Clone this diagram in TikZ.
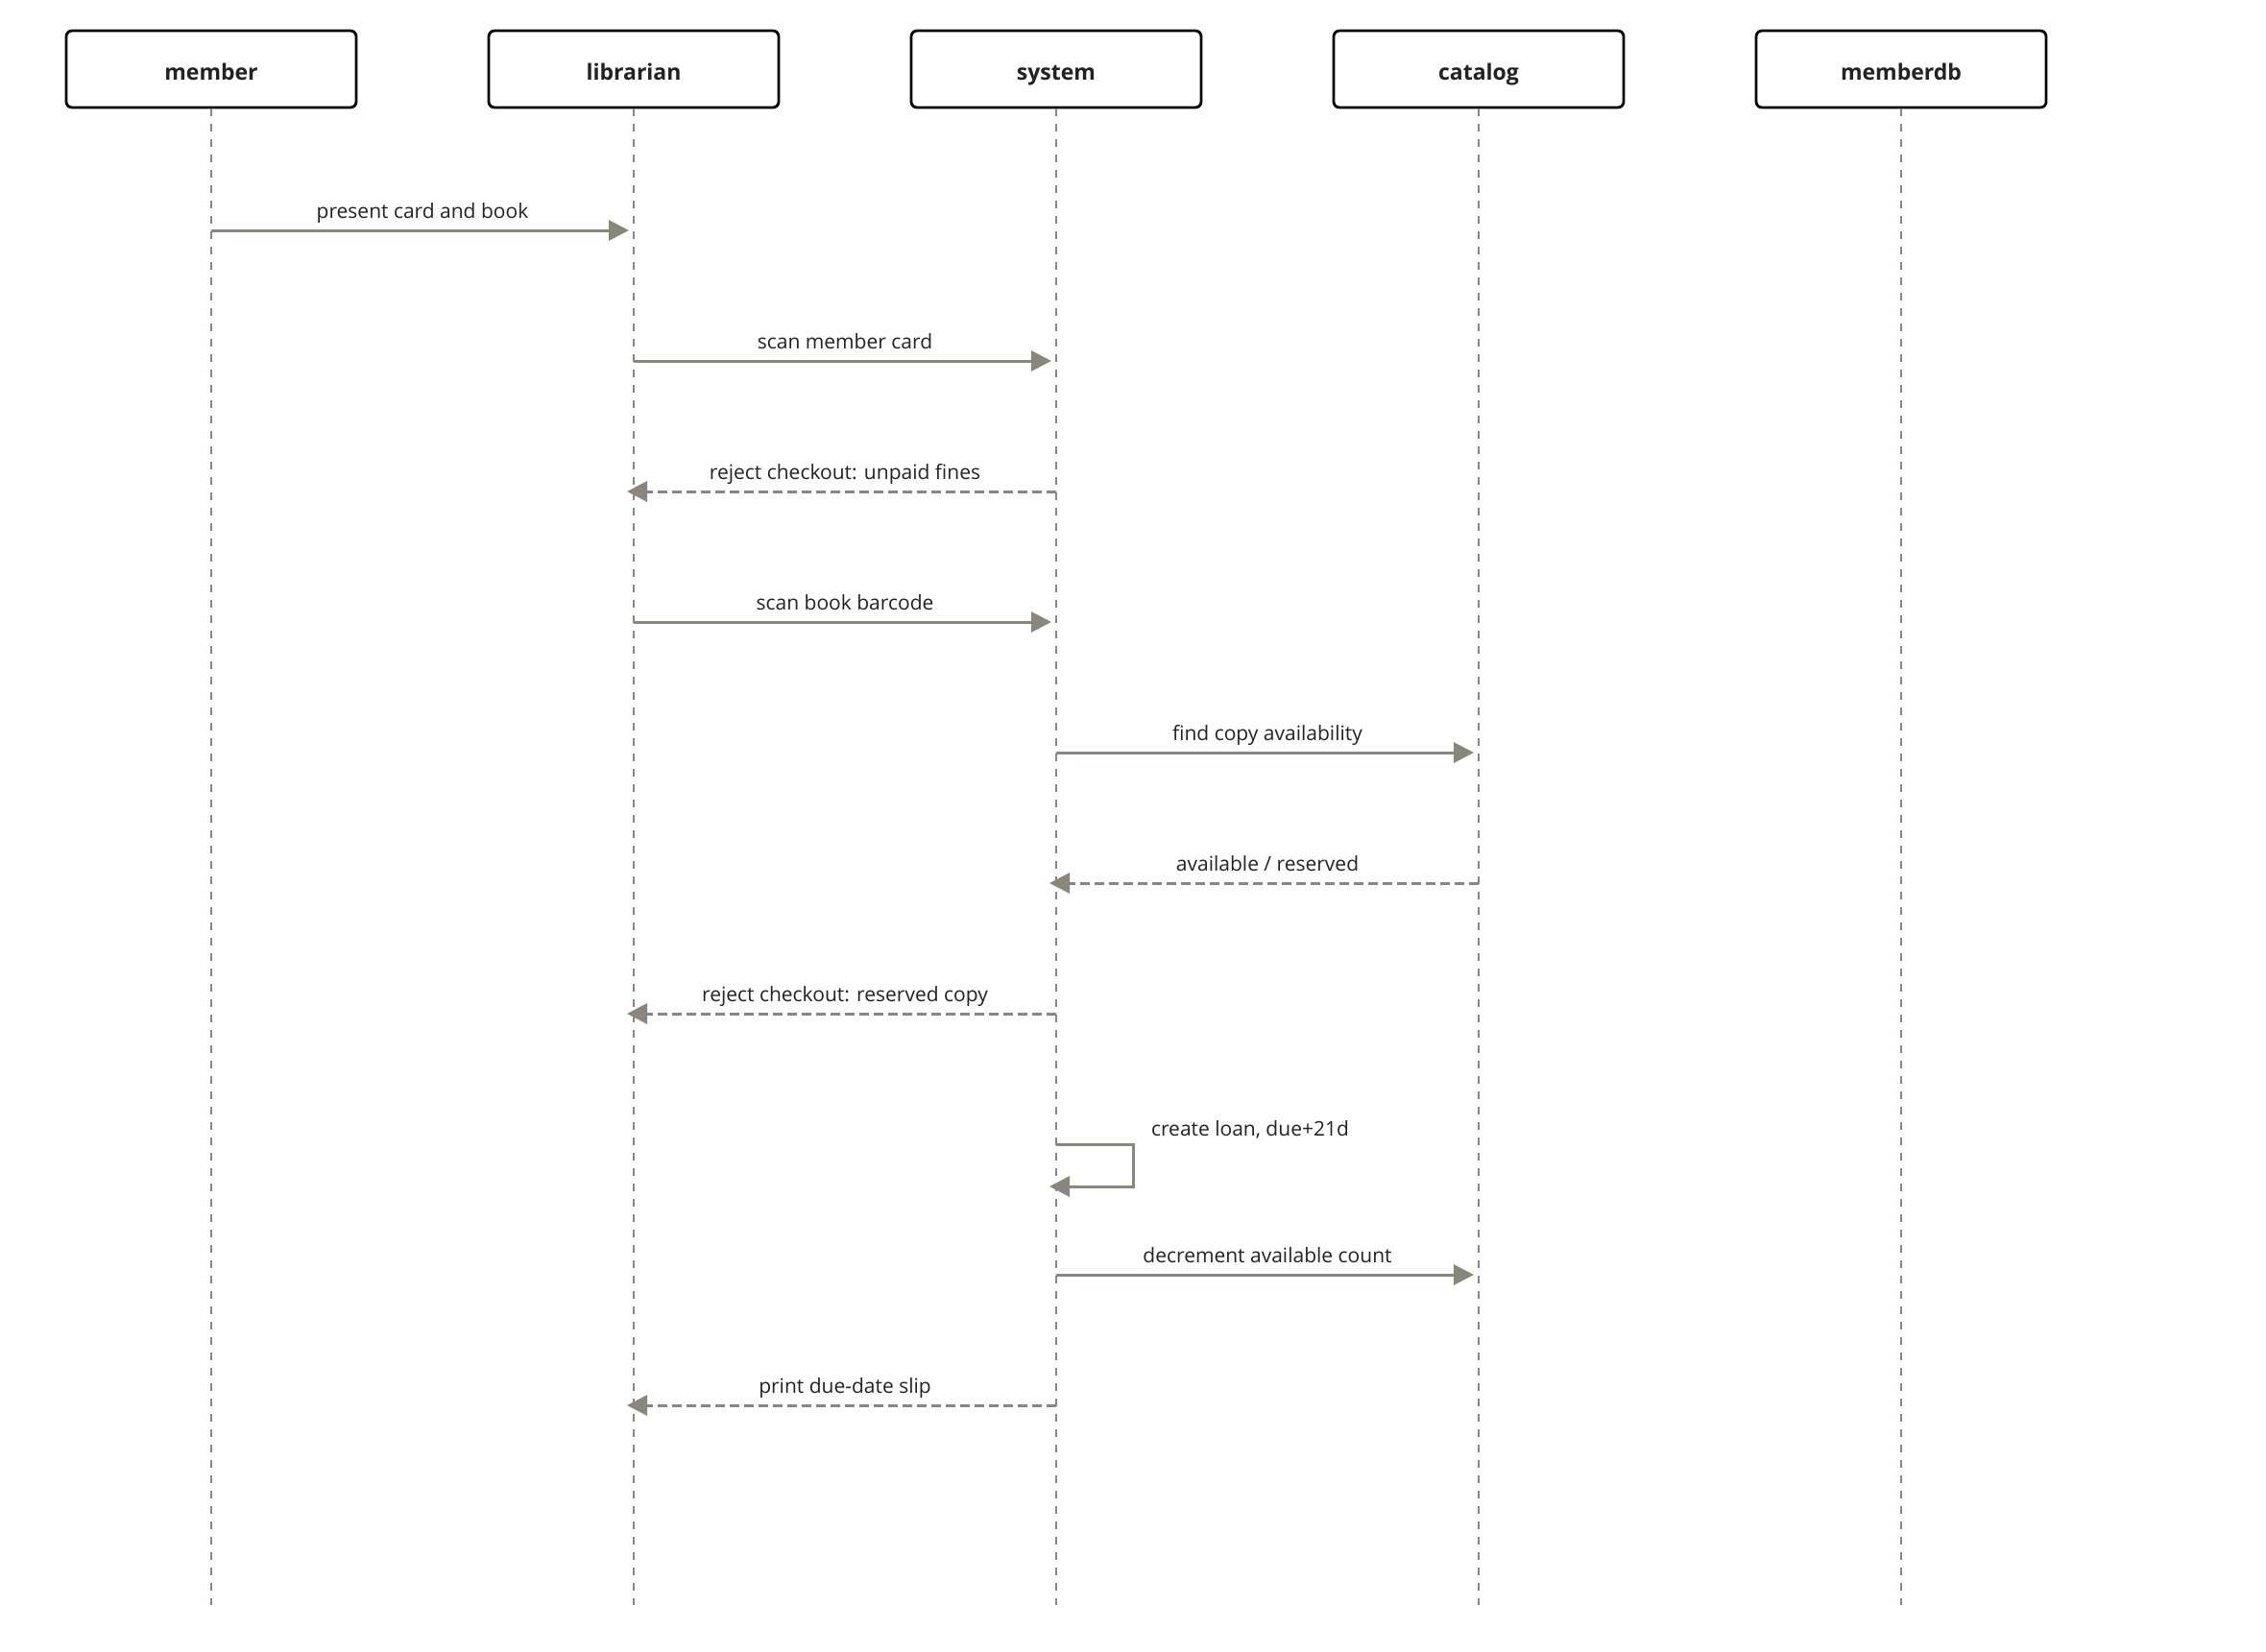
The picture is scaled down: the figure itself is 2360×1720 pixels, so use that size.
\documentclass[tikz,border=0pt]{standalone}
\usepackage{fontspec}
\setmainfont{Open Sans}
\usetikzlibrary{arrows.meta}
\definecolor{linegray}{HTML}{8A857D}
\definecolor{inkdark}{HTML}{222222}
\begin{document}
\begin{tikzpicture}[x=0.5pt,y=-0.5pt,
  actor/.style={draw=black,line width=1.4pt,rounded corners=3pt,fill=white,
    minimum width=151pt,minimum height=40pt,text=inkdark,
    text height=11pt,text depth=0pt,
    font=\fontsize{11.5}{14}\selectfont\bfseries},
  life/.style={draw=linegray,line width=1pt,dash pattern=on 4pt off 4pt},
  call/.style={draw=linegray,line width=1.5pt,
    -{Triangle[length=10.5pt,width=10.5pt]},shorten >=2.5pt},
  back/.style={call,dash pattern=on 5pt off 2.5pt,shorten >=-3.5pt},
  self/.style={call,shorten >=-3.5pt},
  txt/.style={text=inkdark,font=\fontsize{10.5}{12}\selectfont},
  lbl/.style={txt,anchor=base,yshift=6.5pt}]
\useasboundingbox (0,0) rectangle (2360,1720);
\node[actor] (mem) at (220,72) {member};
\node[actor] (lib) at (660,72) {librarian};
\node[actor] (sys) at (1100,72) {system};
\node[actor] (cat) at (1540,72) {catalog};
\node[actor] (mdb) at (1980,72) {memberdb};
\foreach \n in {mem,lib,sys,cat,mdb}
  \draw[life] (\n.south) -- (\n.south |- 0,1672);
\draw[call] (mem |- 0,240) -- (lib |- 0,240) node[lbl,midway] {present card and book};
\draw[call] (lib |- 0,376) -- (sys |- 0,376) node[lbl,midway] {scan member card};
\draw[back] (sys |- 0,512) -- (lib |- 0,512) node[lbl,midway] {reject checkout: unpaid fines};
\draw[call] (lib |- 0,648) -- (sys |- 0,648) node[lbl,midway] {scan book barcode};
\draw[call] (sys |- 0,784) -- (cat |- 0,784) node[lbl,midway] {find copy availability};
\draw[back] (cat |- 0,920) -- (sys |- 0,920) node[lbl,midway] {available / reserved};
\draw[back] (sys |- 0,1056) -- (lib |- 0,1056) node[lbl,midway] {reject checkout: reserved copy};
\draw[self] (sys |- 0,1192) -| (1180,1236) -- (sys |- 0,1236);
\node[txt,anchor=base west] (loan) at (1192,1183) {create loan, due+21d};
\draw[call] (sys |- 0,1328) -- (cat |- 0,1328) node[lbl,midway] {decrement available count};
\draw[back] (sys |- 0,1464) -- (lib |- 0,1464) node[lbl,midway] {print due-date slip};
\end{tikzpicture}
\end{document}
